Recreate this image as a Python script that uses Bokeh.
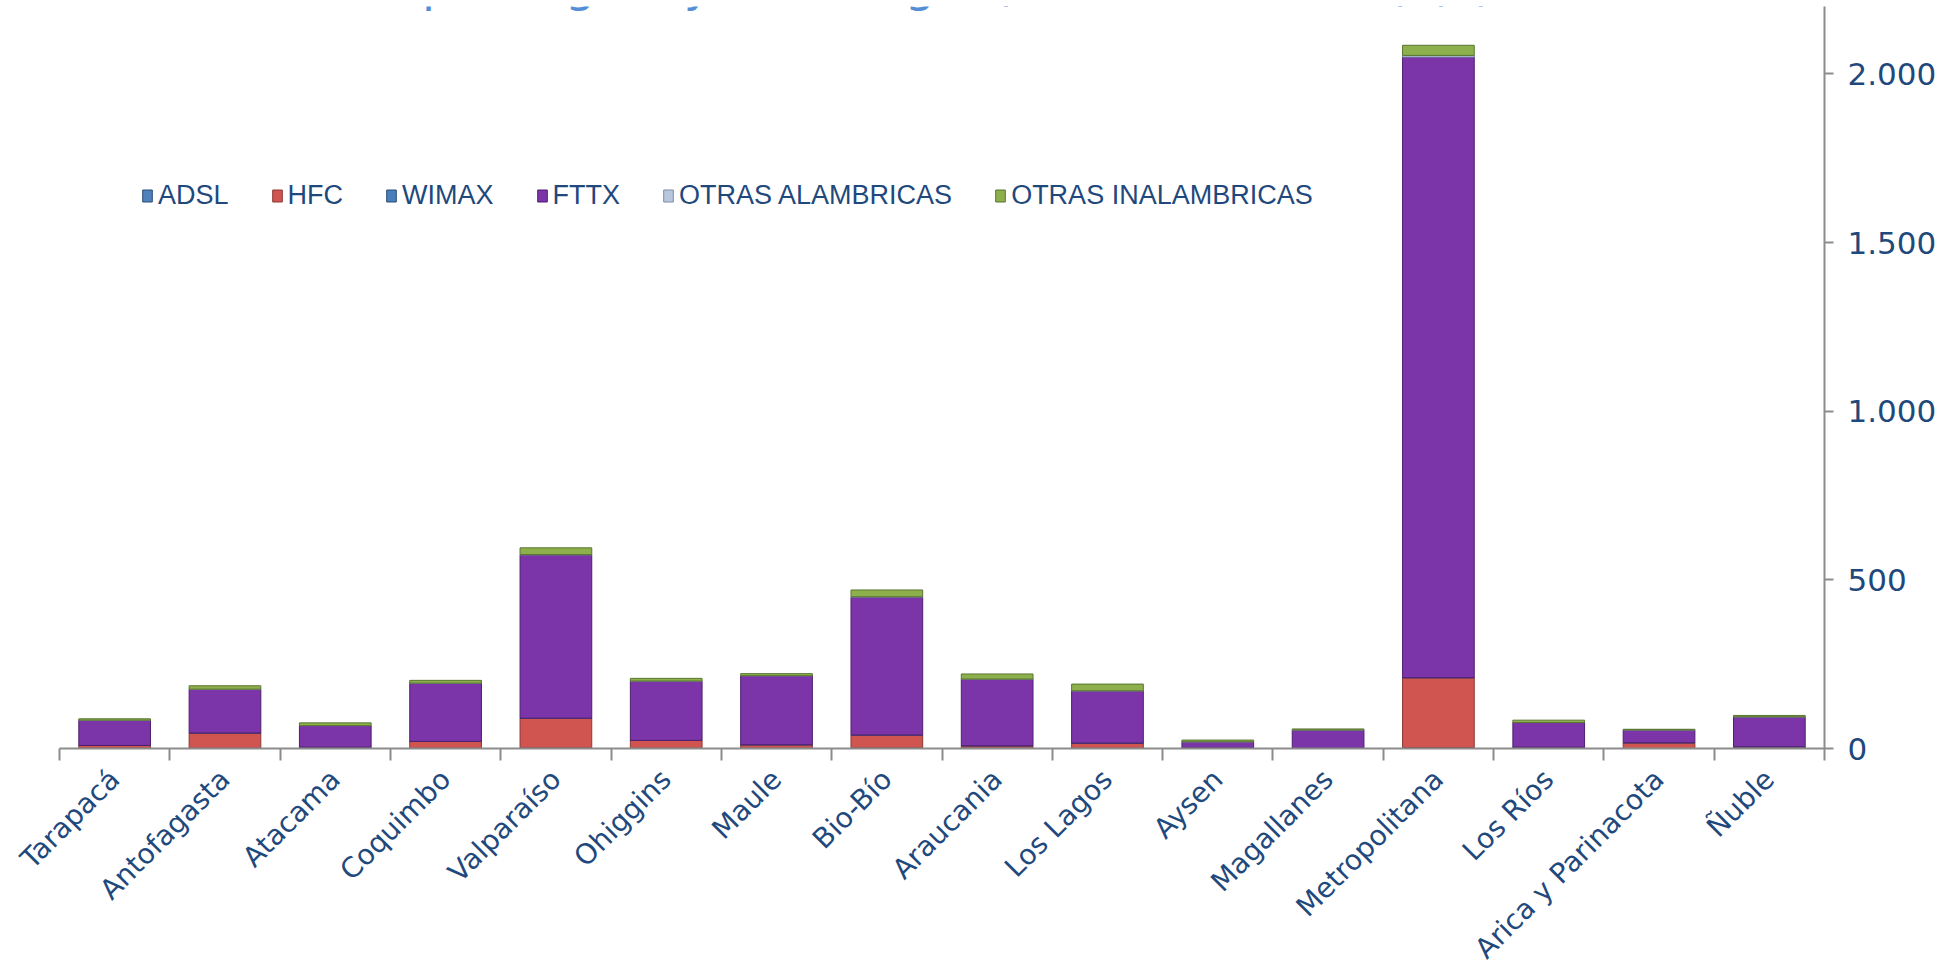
from math import pi
from bokeh.plotting import figure
from bokeh.models import Range1d, FixedTicker, Legend, LegendItem, Label, ColumnDataSource
from bokeh.embed import file_html
from bokeh.resources import INLINE

title_text = "Conexiones por región y tecnología (Diciembre 2023) (k)"

categories = ["Tarapacá", "Antofagasta", "Atacama", "Coquimbo", "Valparaíso", "Ohiggins",
              "Maule", "Bio-Bío", "Araucania", "Los Lagos", "Aysen", "Magallanes",
              "Metropolitana", "Los Ríos", "Arica y Parinacota", "Ñuble"]

series = ["ADSL", "HFC", "WIMAX", "FTTX", "OTRAS ALAMBRICAS", "OTRAS INALAMBRICAS"]

adsl = [1, 1, 1, 1, 2, 1, 1, 2, 1, 1, 0, 0, 3, 1, 0, 1]
hfc = [8, 45, 3, 20, 88, 23, 10, 38, 7, 15, 2, 1, 207, 3, 17, 4]
wimax = [0, 0, 0, 0, 0, 0, 0, 0, 0, 0, 0, 0, 0, 0, 0, 0]
fttx = [75, 130, 64, 173, 484, 176, 205, 409, 198, 155, 18, 54, 1840, 73, 38, 89]
otras_alambricas = [0, 0, 0, 0, 1, 0, 0, 1, 0, 0, 0, 0, 5, 0, 0, 0]
otras_inalambricas = [4, 10, 8, 8, 20, 8, 6, 20, 15, 20, 5, 3, 30, 7, 2, 4]

y_ticks = [0, 500, 1000, 1500, 2000]
y_tick_labels = ["0", "500", "1.000", "1.500", "2.000"]

fill_colors = ["#4F81BD", "#D0544F", "#4A7EBB", "#7B35A8", "#B9C6DE", "#8DB04C"]
line_colors = ["#2C4D75", "#8C3836", "#2C4D75", "#4E1F6E", "#7F8CA6", "#5A7530"]

text_blue = "#1F497D"
axis_gray = "#8C8C8C"

n = len(categories)
xc = [i + 0.5 for i in range(n)]

source = ColumnDataSource(dict(
    x=xc, ADSL=adsl, HFC=hfc, WIMAX=wimax, FTTX=fttx,
    **{"OTRAS ALAMBRICAS": otras_alambricas, "OTRAS INALAMBRICAS": otras_inalambricas}
))

p = figure(width=1958, height=979, x_range=Range1d(0, n), y_range=Range1d(0, 2200),
           output_backend="svg", toolbar_location=None, y_axis_location="right",
           min_border_left=59, min_border_right=134, min_border_top=6, min_border_bottom=0)
p.background_fill_color = "white"
p.border_fill_color = "white"
p.outline_line_color = None
p.xgrid.visible = False
p.ygrid.visible = False

rs = p.vbar_stack(series, x="x", width=0.65, source=source,
                  fill_color=fill_colors, line_color=line_colors, line_width=1)

# y axis (right)
ya = p.yaxis[0]
ya.ticker = FixedTicker(ticks=y_ticks)
ya.major_label_overrides = {t: l for t, l in zip(y_ticks, y_tick_labels)}
ya.major_tick_in = 0
ya.major_tick_out = 9
ya.minor_tick_out = 0
ya.minor_tick_in = 0
ya.axis_line_color = axis_gray
ya.axis_line_width = 2
ya.major_tick_line_color = axis_gray
ya.major_tick_line_width = 2
ya.major_label_text_font = "DejaVu Sans"
ya.major_label_text_font_size = "31px"
ya.major_label_text_color = text_blue
ya.major_label_standoff = 14

# x axis (below), ticks at category boundaries
xa = p.xaxis[0]
xa.ticker = FixedTicker(ticks=xc, minor_ticks=list(range(n + 1)))
xa.major_label_overrides = {t: c for t, c in zip(xc, categories)}
xa.major_tick_in = 0
xa.major_tick_out = 0
xa.minor_tick_in = 0
xa.minor_tick_out = 12
xa.minor_tick_line_color = axis_gray
xa.minor_tick_line_width = 2
xa.axis_line_color = axis_gray
xa.axis_line_width = 2
xa.major_label_orientation = pi / 4
xa.major_label_text_font = "DejaVu Sans"
xa.major_label_text_font_size = "28px"
xa.major_label_text_color = text_blue
xa.major_label_standoff = 14

legend = Legend(items=[LegendItem(label=s, renderers=[r]) for s, r in zip(series, rs)],
                orientation="horizontal", location=(82, 537),
                glyph_width=12, glyph_height=15, label_standoff=5, spacing=42,
                padding=0, margin=0, border_line_color=None, background_fill_alpha=0,
                label_text_font="Liberation Sans", label_text_font_size="27px",
                label_text_color=text_blue)
p.add_layout(legend)

title = Label(x=13.0, y=2268, text=title_text, text_align="right",
              text_baseline="alphabetic", text_font="DejaVu Sans",
              text_font_size="48px", text_color="#558ED5")
p.add_layout(title)

open("out.html", "w").write(file_html(p, INLINE))
